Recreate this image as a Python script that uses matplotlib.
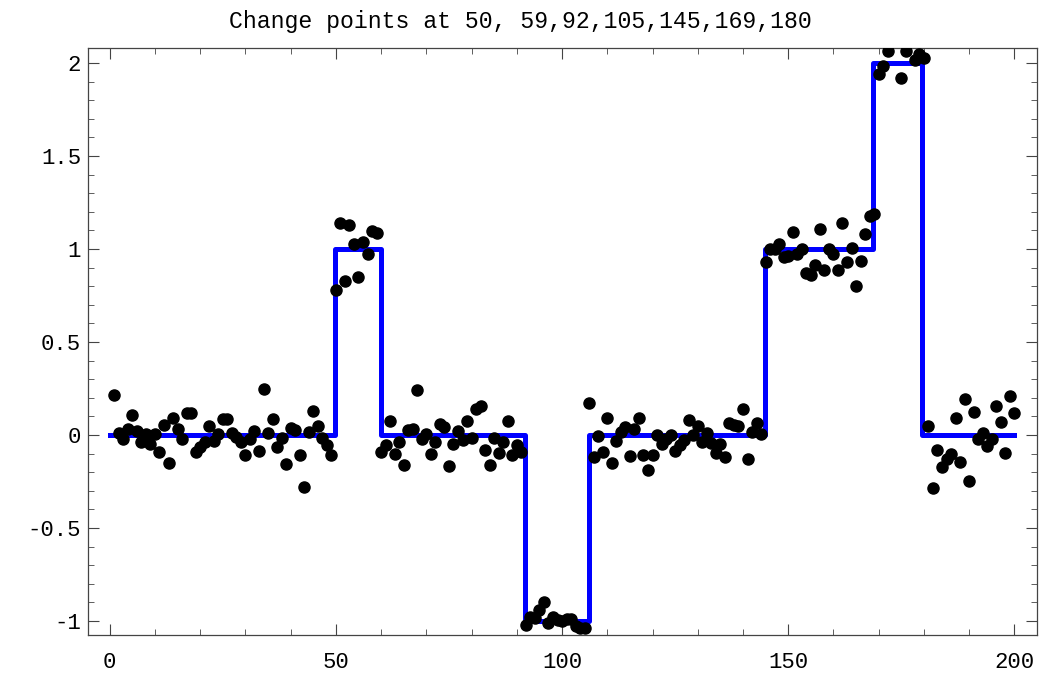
import numpy as np
import matplotlib
matplotlib.use("Agg")
import matplotlib.pyplot as plt
from matplotlib.ticker import MultipleLocator

seg_a = [0.215, 0.01, -0.02, 0.03, 0.11, 0.02, -0.035, 0.005, -0.05, 0.005,
         -0.093, 0.054, -0.15, 0.09, 0.03, -0.023, 0.12, 0.12, -0.09, -0.063,
         -0.04, 0.048, -0.03, 0.005, 0.086, 0.086, 0.009, -0.009, -0.04, -0.107,
         -0.023, 0.023, -0.084, 0.247, 0.009, 0.084, -0.066, -0.018, -0.158, 0.036,
         0.027, -0.107, -0.28, 0.018, 0.13, 0.048, -0.014, -0.054, -0.107]
seg_b = [0.78, 1.14, 0.83, 1.13, 1.025, 0.85, 1.04, 0.973, 1.097, 1.084]
seg_c = [-0.09, -0.054, 0.075, -0.10, -0.036, -0.16, 0.027, 0.034, 0.24, -0.02,
         0.004, -0.10, -0.04, 0.059, 0.041, -0.167, -0.048, 0.023, -0.027, 0.075,
         -0.018, 0.138, 0.156, -0.082, -0.16, -0.018, -0.099, -0.04, 0.075, -0.107,
         -0.054, -0.09]
seg_d = [-1.02, -0.98, -0.985, -0.94, -0.896, -1.01, -0.977, -0.995, -1.0, -0.99,
         -0.99, -1.027, -1.04, -1.04]
seg_e = [0.17, -0.117, -0.005, -0.09, 0.093, -0.149, -0.032, 0.018, 0.045, -0.113,
         0.032, 0.093, -0.107, -0.19, -0.107, 0.0, -0.048, -0.023, 0.0, -0.086,
         -0.054, -0.027, 0.08, 0.0, 0.048, -0.036, 0.009, -0.041, -0.095, -0.048,
         -0.117, 0.066, 0.054, 0.048, 0.14, -0.129, 0.018, 0.066, 0.005]
seg_f = [0.93, 1.0, 0.998, 1.027, 0.955, 0.962, 1.09, 0.973, 0.998, 0.873,
         0.86, 0.912, 1.106, 0.89, 0.998, 0.971, 0.887, 1.141, 0.93, 1.004,
         0.80, 0.937, 1.079, 1.179, 1.188]
seg_g = [1.94, 1.985, 2.066, 2.2, 2.15, 1.92, 2.066, 2.14, 2.016, 2.05, 2.025]
seg_h = [0.048, -0.287, -0.08, -0.174, -0.13, -0.1, 0.09, -0.147, 0.192, -0.246,
         0.124, -0.023, 0.013, -0.059, -0.022, 0.158, 0.068, -0.098, 0.21, 0.117]

y_obs = seg_a + seg_b + seg_c + seg_d + seg_e + seg_f + seg_g + seg_h
x_obs = np.arange(1, len(y_obs) + 1)

# fitted step function (jump positions as drawn)
breaks = [0, 49.8, 60.0, 91.8, 105.9, 144.8, 168.7, 179.5, 200]
levels = [0, 1, 0, -1, 0, 1, 2, 0]

fig = plt.figure(figsize=(10.4, 6.75), dpi=100)
ax = fig.add_axes([88 / 1040, 40 / 675, (1037 - 88) / 1040, (635 - 48) / 675])

sx, sy = [], []
for i, lev in enumerate(levels):
    sx += [breaks[i], breaks[i + 1]]
    sy += [lev, lev]
ax.plot(sx, sy, color="#0000ff", lw=3.6, zorder=2)
ax.plot(x_obs, y_obs, "o", color="black", ms=8, zorder=3)

ax.set_xlim(-4.8, 205)
ax.set_ylim(-1.075, 2.081)

ax.xaxis.set_major_locator(MultipleLocator(50))
ax.xaxis.set_minor_locator(MultipleLocator(10))
ax.yaxis.set_minor_locator(MultipleLocator(0.1))
ax.set_yticks([-1, -0.5, 0, 0.5, 1, 1.5, 2])
ax.set_yticklabels(["-1", "-0.5", "0", "0.5", "1", "1.5", "2"])

ax.tick_params(which="both", direction="in", top=True, right=True, color="#444444")
ax.tick_params(which="major", length=8, width=0.8)
ax.tick_params(which="minor", length=4, width=0.6)
ax.tick_params(axis="x", pad=12)
ax.tick_params(axis="y", pad=5)
for lab in ax.get_xticklabels() + ax.get_yticklabels():
    lab.set_fontfamily("Liberation Mono")
    lab.set_fontsize(16)

for sp in ax.spines.values():
    sp.set_color("#444444")
    sp.set_linewidth(0.9)

fig.text(0.5, 0.968, "Change points at 50, 59,92,105,145,169,180",
         ha="center", va="center", fontfamily="Liberation Mono", fontsize=16.7)

fig.savefig("out.png", dpi=100)
